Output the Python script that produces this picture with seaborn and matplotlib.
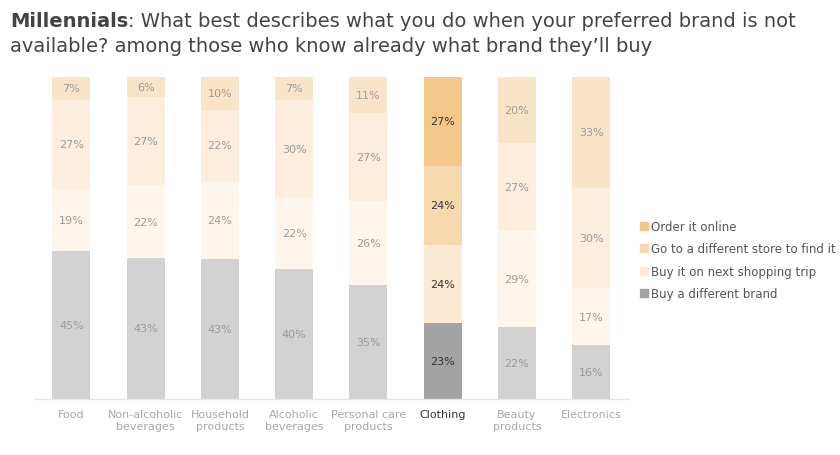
import matplotlib
matplotlib.use("Agg")
import matplotlib.pyplot as plt
from matplotlib.lines import Line2D
import seaborn as sns
import pandas as pd
import numpy as np

categories = ["Food", "Non-alcoholic\nbeverages", "Household\nproducts", "Alcoholic\nbeverages",
              "Personal care\nproducts", "Clothing", "Beauty\nproducts", "Electronics"]
series_names = ["Buy a different brand", "Buy it on next shopping trip",
                "Go to a different store to find it", "Order it online"]
different_brand = [45, 43, 43, 40, 35, 23, 22, 16]
next_trip = [19, 22, 24, 22, 26, 24, 29, 17]
different_store = [27, 27, 22, 30, 27, 24, 27, 30]
order_online = [7, 6, 10, 7, 11, 27, 20, 33]
highlight = "Clothing"

normal_colors = ["#D2D2D2", "#FEF6EC", "#FCEDDC", "#FAE4C7"]
hi_colors = ["#A3A3A3", "#FCEAD4", "#F8D9AF", "#F5C78A"]

sns.set_style("white")
plt.rcParams['font.family'] = ['DejaVu Sans']

fig = plt.figure(figsize=(8.4, 4.56), dpi=100)
ax = fig.add_axes([35/840, 56/456, (629-35)/840, (400-78)/456])

vals = np.array([different_brand, next_trip, different_store, order_online], dtype=float)
totals = vals.sum(axis=0)
norm = vals / totals
cum = np.cumsum(norm, axis=0)

# draw from top (cumulative largest) to bottom so smaller ones overlap
for k in range(3, -1, -1):
    df = pd.DataFrame({"cat": categories, "val": cum[k]})
    pal = [hi_colors[k] if c == highlight else normal_colors[k] for c in categories]
    sns.barplot(data=df, x="cat", y="val", hue="cat", palette=pal, legend=False,
                width=0.51, ax=ax, saturation=1, linewidth=0)

for i, c in enumerate(categories):
    for k in range(4):
        bottom = cum[k - 1][i] if k > 0 else 0
        mid = (bottom + cum[k][i]) / 2
        ax.text(i, mid, f"{int(vals[k][i])}%", ha="center", va="center", fontsize=8,
                color="#333333" if c == highlight else "#9A9A9A")

ax.set_xlim(-0.49, 7.51)
ax.set_ylim(0, 1)
ax.set_yticks([])
ax.set_xlabel("")
ax.set_ylabel("")
for s in ["top", "right", "left"]:
    ax.spines[s].set_visible(False)
ax.spines["bottom"].set_color("#E6E6E6")
ax.spines["bottom"].set_linewidth(1)
ax.tick_params(axis="x", length=0, pad=7)
ax.set_xticks(range(len(categories)))
ax.set_xticklabels(categories, fontsize=8, linespacing=1.3)
for lbl in ax.get_xticklabels():
    lbl.set_color("#333333" if lbl.get_text() == highlight else "#A8A8A8")

# legend
leg_colors = ["#F5C78A", "#F8D9AF", "#FCEAD4", "#A3A3A3"]
leg_names = series_names[::-1]
handles = [Line2D([], [], marker="s", linestyle="", markersize=5.5, color=col) for col in leg_colors]
fig.legend(handles, leg_names, loc="upper left", bbox_to_anchor=(640/840, 1 - 221/456),
           frameon=False, fontsize=8.5, labelcolor="#555555", handlelength=0.6,
           handletextpad=0.3, labelspacing=0.8, borderaxespad=0, borderpad=0)

# title
fs = 14
t1 = fig.text(10/840, 1 - 27/456, "Millennials", fontsize=fs, fontweight="bold",
              color="#444444", va="baseline", ha="left")
fig.canvas.draw()
bb = t1.get_window_extent()
fig.text(bb.x1/840, 1 - 27/456, ": What best describes what you do when your preferred brand is not",
         fontsize=fs, color="#444444", va="baseline", ha="left")
fig.text(10/840, 1 - 52/456, "available? among those who know already what brand they\u2019ll buy",
         fontsize=fs, color="#444444", va="baseline", ha="left")

fig.savefig("out.png", dpi=100, facecolor="white")
